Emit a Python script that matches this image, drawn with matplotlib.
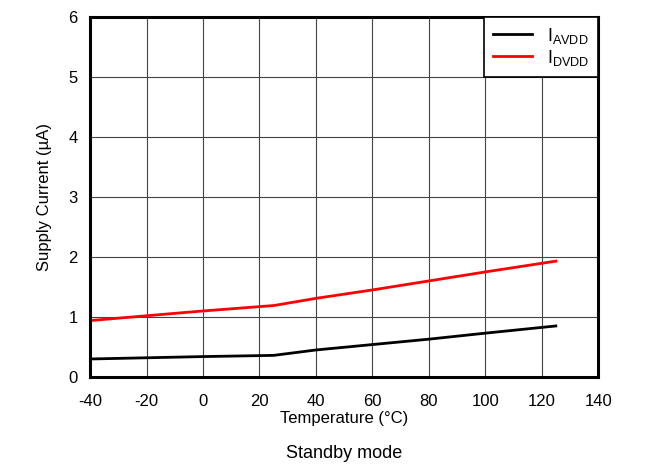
import matplotlib.pyplot as plt

plt.rcParams['font.family'] = ['Liberation Sans', 'DejaVu Sans']
plt.rcParams['mathtext.fontset'] = 'custom'
plt.rcParams['mathtext.rm'] = 'Liberation Sans'
plt.rcParams['axes.unicode_minus'] = False

# temperatures (°C)
temp = [-40, -20, 0, 25, 40, 60, 80, 100, 125]
# supply currents (µA)
i_avdd = [0.30, 0.32, 0.34, 0.36, 0.45, 0.54, 0.63, 0.73, 0.85]
i_dvdd = [0.94, 1.02, 1.10, 1.19, 1.31, 1.45, 1.60, 1.75, 1.93]

xticks = list(range(-40, 141, 20))
yticks = list(range(0, 7))

fig = plt.figure(figsize=(6.53, 4.66), dpi=100)
ax = fig.add_axes([0.138, 0.191, 0.778, 0.773])

ax.plot(temp, i_avdd, color='black', lw=2, label=r'I$_{\mathregular{AVDD}}$')
ax.plot(temp, i_dvdd, color='red', lw=2, label=r'I$_{\mathregular{DVDD}}$')

ax.set_xlim(-40, 140)
ax.set_ylim(0, 6)
ax.set_xticks(xticks)
ax.set_yticks(yticks)
ax.tick_params(length=0, labelsize=12)
ax.tick_params(axis='x', pad=12)
ax.tick_params(axis='y', pad=9)
ax.grid(True, color='#444444', lw=0.8)
for s in ax.spines.values():
    s.set_linewidth(2.2)

ax.set_xlabel('Temperature (°C)', fontsize=12, labelpad=2)
ax.set_ylabel('Supply Current (µA)', fontsize=12, labelpad=12)

leg = ax.legend(loc='upper right', fontsize=13, fancybox=False, framealpha=1,
                edgecolor='black', borderaxespad=0, handlelength=2.2,
                labelspacing=0.1, borderpad=0.5)
leg.get_frame().set_linewidth(1.2)

fig.text(0.527, 0.018, 'Standby mode', ha='center', fontsize=13)

fig.savefig('out.png', dpi=100)
